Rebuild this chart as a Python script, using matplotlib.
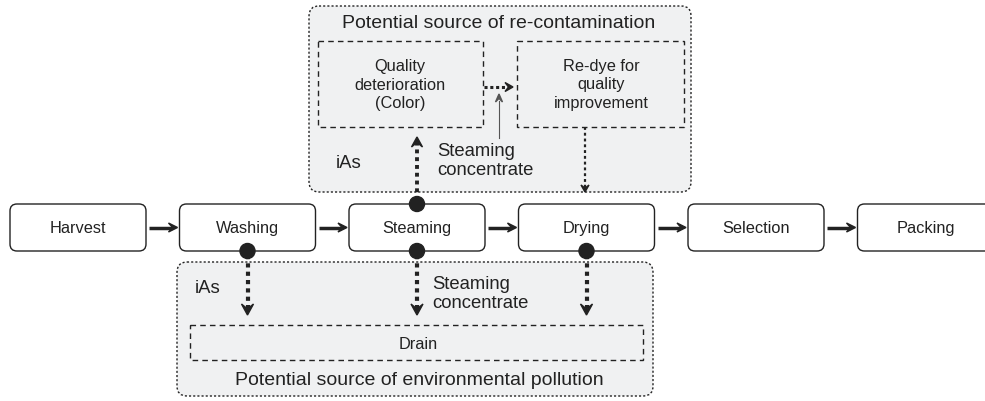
import matplotlib.pyplot as plt
from matplotlib.patches import FancyBboxPatch, Rectangle, Polygon, Circle

plt.rcParams["font.family"] = ["Liberation Sans", "DejaVu Sans"]

# process steps along the main line
steps = ["Harvest", "Washing", "Steaming", "Drying", "Selection", "Packing"]
# which steps have a drain output (index) and which one feeds re-contamination
drain_steps = [1, 2, 3]
recon_step = 2

# box geometry (pixels)
BOX_X0, BOX_STEP, BOX_W = 10, 169.5, 136
BOX_Y0, BOX_H = 205, 47
INK = "#222222"
FILL = "#f0f1f2"


def head(ax, tip, direction, size=9, width=5.5, color=INK):
    # notched arrow head pointing in direction (dx, dy)
    dx, dy = direction
    tx, ty = tip
    bx, by = tx - dx * size, ty - dy * size
    nx, ny = -dy, dx
    pts = [(tx, ty),
           (bx + nx * width, by + ny * width),
           (tx - dx * size * 0.55, ty - dy * size * 0.55),
           (bx - nx * width, by - ny * width)]
    ax.add_patch(Polygon(pts, closed=True, color=color, zorder=6))


def dotted_arrow(ax, start, tip, lw=3, hsize=11, hwidth=6, pattern=(1, 1)):
    dx = tip[0] - start[0]
    dy = tip[1] - start[1]
    n = (dx ** 2 + dy ** 2) ** 0.5
    ux, uy = dx / n, dy / n
    end = (tip[0] - ux * hsize * 0.6, tip[1] - uy * hsize * 0.6)
    ax.plot([start[0], end[0]], [start[1], end[1]], color=INK, lw=lw,
            linestyle=(0, pattern), solid_capstyle="butt", dash_capstyle="butt", zorder=5)
    head(ax, tip, (ux, uy), size=hsize, width=hwidth)


fig = plt.figure(figsize=(9.85, 4.02), dpi=100)
ax = fig.add_axes([0, 0, 1, 1])
ax.set_xlim(0, 985)
ax.set_ylim(402, 0)
ax.axis("off")

# gray regions
top = FancyBboxPatch((309, 7), 382, 186, boxstyle="round,pad=0,rounding_size=10",
                     facecolor=FILL, edgecolor=INK, lw=1, linestyle=(0, (1.5, 1.5)), zorder=1)
ax.add_patch(top)
bottom = FancyBboxPatch((177, 263), 476, 134, boxstyle="round,pad=0,rounding_size=10",
                        facecolor=FILL, edgecolor=INK, lw=1, linestyle=(0, (1.5, 1.5)), zorder=1)
ax.add_patch(bottom)

ax.text(342, 24, "Potential source of re-contamination", fontsize=14, color=INK,
        ha="left", va="center", zorder=7)
ax.text(419, 381, "Potential source of environmental pollution", fontsize=14, color=INK,
        ha="center", va="center", zorder=7)

# inner dashed boxes
dash = (0, (4, 3))
ax.add_patch(Rectangle((318, 42), 165, 86, facecolor="none", edgecolor=INK, lw=1,
                       linestyle=dash, zorder=2))
ax.add_patch(Rectangle((517, 42), 167, 86, facecolor="none", edgecolor=INK, lw=1,
                       linestyle=dash, zorder=2))
ax.add_patch(Rectangle((190, 326), 453, 35, facecolor="none", edgecolor=INK, lw=1,
                       linestyle=dash, zorder=2))

ax.text(400, 85, "Quality\ndeterioration\n(Color)", fontsize=11.8, color=INK,
        ha="center", va="center", linespacing=1.3, zorder=7)
ax.text(601, 85, "Re-dye for\nquality\nimprovement", fontsize=11.8, color=INK,
        ha="center", va="center", linespacing=1.3, zorder=7)
ax.text(418, 345, "Drain", fontsize=11.8, color=INK, ha="center", va="center", zorder=7)

# labels
ax.text(336, 164, "iAs", fontsize=13.3, color=INK, ha="left", va="center", zorder=7)
ax.text(437, 161, "Steaming\nconcentrate", fontsize=13.3, color=INK, ha="left", va="center",
        linespacing=1.1, zorder=7)
ax.text(195, 289, "iAs", fontsize=13.3, color=INK, ha="left", va="center", zorder=7)
ax.text(432, 294, "Steaming\nconcentrate", fontsize=13.3, color=INK, ha="left", va="center",
        linespacing=1.1, zorder=7)

# main process boxes and arrows
centers = []
for i, name in enumerate(steps):
    x0 = BOX_X0 + i * BOX_STEP
    ax.add_patch(FancyBboxPatch((x0, BOX_Y0), BOX_W, BOX_H,
                                boxstyle="round,pad=0,rounding_size=7",
                                facecolor="white", edgecolor=INK, lw=1, zorder=3))
    ax.text(x0 + BOX_W / 2, BOX_Y0 + BOX_H / 2, name, fontsize=11.8, color=INK,
            ha="center", va="center", zorder=7)
    centers.append(x0 + BOX_W / 2)
    if i < len(steps) - 1:
        xs = x0 + BOX_W + 3
        xe = BOX_X0 + (i + 1) * BOX_STEP - 2
        ax.plot([xs, xe - 6], [BOX_Y0 + BOX_H / 2] * 2, color=INK, lw=2.5,
                solid_capstyle="butt", zorder=4)
        head(ax, (xe, BOX_Y0 + BOX_H / 2), (1, 0), size=9, width=4.5)

# drain outputs
for i in drain_steps:
    cx = centers[i]
    ax.add_patch(Circle((cx, BOX_Y0 + BOX_H), 7.5, color=INK, zorder=6))
    dotted_arrow(ax, (cx, BOX_Y0 + BOX_H + 4), (cx, 316))

# re-contamination loop
cx = centers[recon_step]
ax.add_patch(Circle((cx, BOX_Y0), 7.5, color=INK, zorder=6))
dotted_arrow(ax, (cx, BOX_Y0 - 4), (cx, 138), lw=2.8, hsize=10, hwidth=5.5)
dotted_arrow(ax, (484, 88), (513, 88), lw=2.2, hsize=8, hwidth=4.5, pattern=(1, 0.9))
dotted_arrow(ax, (585, 128), (585, 193), lw=1.6, hsize=7, hwidth=4, pattern=(1.3, 1.3))

# thin pointer from steaming concentrate
ax.plot([499, 499], [139, 102], color="#555555", lw=0.8, zorder=5)
head(ax, (499, 95), (0, -1), size=8, width=3.5, color="#555555")

fig.savefig("out.png", dpi=100)
